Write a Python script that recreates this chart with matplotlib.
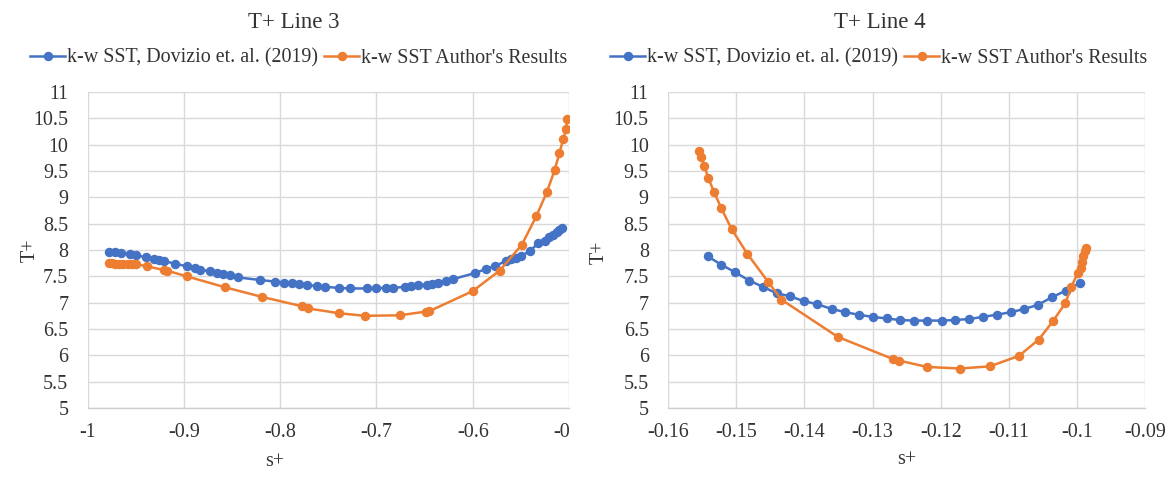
import numpy as np
import matplotlib
matplotlib.use("Agg")
import matplotlib.pyplot as plt
from matplotlib.transforms import Bbox, TransformedBbox

plt.rcParams['font.family'] = ['Liberation Serif', 'DejaVu Serif']

# T+ along line 3
line3_ref_s = [-0.978, -0.972, -0.965, -0.956, -0.950, -0.939, -0.931, -0.926, -0.921, -0.909,
               -0.897, -0.889, -0.883, -0.873, -0.866, -0.859, -0.852, -0.844, -0.821, -0.805,
               -0.796, -0.788, -0.781, -0.772, -0.762, -0.753, -0.739, -0.727, -0.710, -0.701,
               -0.690, -0.683, -0.670, -0.664, -0.657, -0.648, -0.642, -0.636, -0.628, -0.620,
               -0.598, -0.586, -0.577, -0.565, -0.560, -0.555, -0.550, -0.540, -0.532, -0.525,
               -0.521, -0.517, -0.512, -0.510, -0.507]
line3_ref_t = [7.97, 7.97, 7.95, 7.92, 7.90, 7.86, 7.83, 7.81, 7.79, 7.74,
               7.69, 7.66, 7.62, 7.60, 7.57, 7.55, 7.52, 7.48, 7.43, 7.40,
               7.38, 7.37, 7.36, 7.33, 7.32, 7.30, 7.28, 7.27, 7.27, 7.28,
               7.28, 7.28, 7.30, 7.31, 7.33, 7.34, 7.36, 7.38, 7.41, 7.45,
               7.56, 7.64, 7.70, 7.79, 7.83, 7.85, 7.88, 7.99, 8.13, 8.18,
               8.25, 8.29, 8.35, 8.38, 8.42]
line3_own_s = [-0.978, -0.975, -0.972, -0.967, -0.963, -0.958, -0.954, -0.950, -0.938, -0.921,
               -0.918, -0.897, -0.857, -0.819, -0.777, -0.771, -0.739, -0.712, -0.676, -0.649,
               -0.645, -0.600, -0.572, -0.549, -0.534, -0.523, -0.515, -0.510, -0.506, -0.503,
               -0.502]
line3_own_t = [7.75, 7.75, 7.74, 7.74, 7.74, 7.74, 7.74, 7.73, 7.69, 7.62,
               7.61, 7.50, 7.29, 7.11, 6.93, 6.89, 6.80, 6.75, 6.76, 6.83,
               6.84, 7.22, 7.61, 8.10, 8.64, 9.10, 9.51, 9.84, 10.10, 10.30,
               10.49]

# T+ along line 4
line4_ref_s = [-0.1542, -0.1522, -0.1502, -0.1481, -0.1461, -0.1441, -0.1421, -0.1401, -0.1381, -0.1360,
               -0.1340, -0.1320, -0.1300, -0.1279, -0.1260, -0.1239, -0.1220, -0.1198, -0.1179, -0.1158,
               -0.1138, -0.1118, -0.1097, -0.1077, -0.1057, -0.1037, -0.1016, -0.0996]
line4_ref_t = [7.88, 7.72, 7.58, 7.42, 7.30, 7.18, 7.12, 7.03, 6.97, 6.88,
               6.82, 6.77, 6.73, 6.70, 6.67, 6.66, 6.66, 6.66, 6.67, 6.69,
               6.73, 6.77, 6.82, 6.88, 6.96, 7.10, 7.23, 7.37]
line4_own_s = [-0.1555, -0.1552, -0.1547, -0.1541, -0.1533, -0.1522, -0.1507, -0.1484, -0.1453, -0.1434,
               -0.1351, -0.1270, -0.1261, -0.1220, -0.1172, -0.1128, -0.1085, -0.1056, -0.1035, -0.1017,
               -0.1008, -0.0999, -0.0994, -0.0993, -0.0991, -0.0988, -0.0986]
line4_own_t = [9.88, 9.77, 9.60, 9.36, 9.11, 8.79, 8.40, 7.93, 7.39, 7.06,
               6.35, 5.93, 5.90, 5.78, 5.75, 5.79, 5.99, 6.30, 6.65, 6.99,
               7.30, 7.56, 7.65, 7.77, 7.88, 7.99, 8.04]

line3_xticks = [-1, -0.9, -0.8, -0.7, -0.6, -0.5]
line4_xticks = [-0.16, -0.15, -0.14, -0.13, -0.12, -0.11, -0.1, -0.09]
yticks = np.arange(5, 11.01, 0.5)

ref_label = "k-w SST, Dovizio et. al. (2019)"
own_label = "k-w SST Author's Results"
blue = '#4472C4'
orange = '#ED7D31'
grid_col = '#d9d9d9'
text_col = '#333333'

W, H = 1174, 484
fig = plt.figure(figsize=(W / 100, H / 100), dpi=100)
ax1 = fig.add_axes([87.7 / W, 76 / H, 481.3 / W, 316 / H])
ax2 = fig.add_axes([668.2 / W, 76 / H, 476.8 / W, 316 / H])


def style_axes(ax, xticks):
    ax.set_xlim(xticks[0], xticks[-1])
    ax.set_ylim(5, 11)
    ax.set_xticks(xticks)
    ax.set_xticklabels(['%g' % v for v in xticks])
    ax.set_yticks(yticks)
    ax.set_yticklabels(['%g' % v for v in yticks])
    ax.tick_params(length=0, labelsize=14.4, pad=11, colors=text_col)
    ax.tick_params(axis='y', pad=14)
    ax.grid(True, color=grid_col, linewidth=1.0)
    ax.set_axisbelow(True)
    for sp in ['left', 'right', 'top']:
        ax.spines[sp].set_visible(False)
    ax.spines['bottom'].set_color('#cfcfcf')
    ax.spines['bottom'].set_linewidth(1.0)


def draw(ax, rs, rt, os_, ot, legend_x):
    ax.plot(rs, rt, color=blue, lw=1.8, marker='o', ms=5.8, label=ref_label, zorder=3)
    ax.plot(os_, ot, color=orange, lw=1.8, marker='o', ms=5.8, label=own_label, zorder=3)
    ax.legend(loc='center', bbox_to_anchor=(legend_x / W, 1 - 58 / H),
              bbox_transform=fig.transFigure, ncol=2, frameon=False,
              fontsize=14.4, handlelength=1.75, handletextpad=0.1,
              columnspacing=0.3, borderpad=0, borderaxespad=0,
              labelcolor=text_col)


draw(ax1, line3_ref_s, line3_ref_t, line3_own_s, line3_own_t, 299)
style_axes(ax1, line3_xticks)
draw(ax2, line4_ref_s, line4_ref_t, line4_own_s, line4_own_t, 879)
style_axes(ax2, line4_xticks)

# the last tick label of the left chart runs past its chart area
last = ax1.xaxis.get_major_ticks()[-1].label1
last.set_clip_box(TransformedBbox(Bbox([[0, 0], [570.5 / W, 1]]), fig.transFigure))
last.set_clip_on(True)

txt = dict(color=text_col, ha='center', va='center')
fig.text(294 / W, 1 - 22 / H, 'T+ Line 3', fontsize=16.5, **txt)
fig.text(880 / W, 1 - 22 / H, 'T+ Line 4', fontsize=16.5, **txt)
fig.text(275 / W, 1 - 461 / H, 's+', fontsize=14.4, **txt)
fig.text(907 / W, 1 - 460 / H, 's+', fontsize=14.4, **txt)
fig.text(30 / W, 1 - 250 / H, 'T+', fontsize=14.4, rotation=90, **txt)
fig.text(599 / W, 1 - 252 / H, 'T+', fontsize=14.4, rotation=90, **txt)

fig.savefig('out.png', dpi=100, facecolor='white')
